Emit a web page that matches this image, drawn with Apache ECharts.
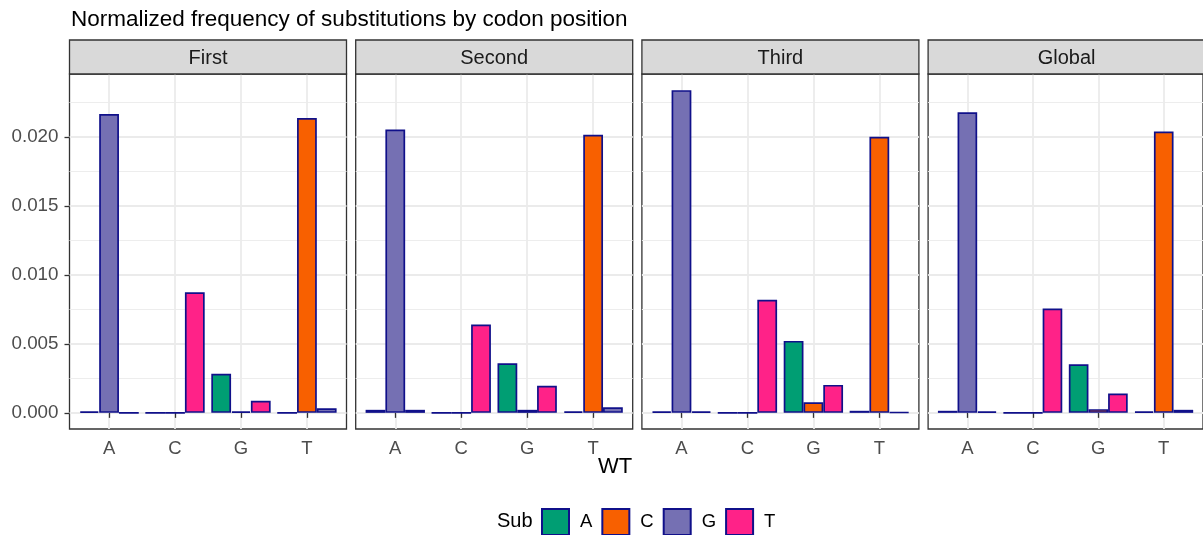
<!DOCTYPE html>
<html><head><meta charset="utf-8">
<script src="https://cdn.jsdelivr.net/npm/echarts@6/dist/echarts.min.js"></script>
<style>html,body{margin:0;padding:0;background:#fff}#c{width:1203px;height:535px}</style>
</head><body><div id="c"></div>
<script>
// ---------- data ----------
const panelNames = ['First', 'Second', 'Third', 'Global'];
const wtCategories = ['A', 'C', 'G', 'T'];          // x categories (WT base)
const subCategories = ['A', 'C', 'G', 'T'];         // fill (Sub base)
const yTickValues = [0, 0.005, 0.010, 0.015, 0.020];
const yMinorValues = [0.0025, 0.0075, 0.0125, 0.0175, 0.0225];
// values indexed by WT base A, C, G, T ; null = same base (no bar)
const first_A  = [null, 0, 0.00283, 0];
const first_C  = [0.00012, null, 0.00012, 0.02138];
const first_G  = [0.02167, 0, null, 0.00034];
const first_T  = [0, 0.00875, 0.00087, null];
const second_A = [null, 0, 0.00360, 0.00012];
const second_C = [0.00022, null, 0.00022, 0.02017];
const second_G = [0.02056, 0, null, 0.00041];
const second_T = [0.00022, 0.00641, 0.00196, null];
const third_A  = [null, 0, 0.00522, 0.00015];
const third_C  = [0.00010, null, 0.00077, 0.02002];
const third_G  = [0.02341, 0, null, 0.00005];
const third_T  = [0.00010, 0.00820, 0.00203, null];
const global_A = [null, 0, 0.00353, 0.00010];
const global_C = [0.00015, null, 0.00027, 0.02041];
const global_G = [0.02181, 0, null, 0.00022];
const global_T = [0.00010, 0.00757, 0.00140, null];

// ---------- styling ----------
const FONT = '"Liberation Sans", Arial, Helvetica, sans-serif';
const subColors = { A: '#009E73', C: '#F86000', G: '#7570B3', T: '#FF2288' };
const BORDER = '#10108A';
const panelLeft0 = 69.5, panelStep = 286.2, panelW = 277, panelTop = 74, panelH = 355;
const stripTop = 40, stripH = 34;

const panelData = [
  { A: first_A, C: first_C, G: first_G, T: first_T },
  { A: second_A, C: second_C, G: second_G, T: second_T },
  { A: third_A, C: third_C, G: third_G, T: third_T },
  { A: global_A, C: global_C, G: global_G, T: global_T }
];

let dataMax = 0;
panelData.forEach(pd => subCategories.forEach(s => pd[s].forEach(v => { if (v != null && v > dataMax) dataMax = v; })));
const yMax = dataMax * 1.05;
const yMin = -dataMax * 0.05;

const grid = [], xAxis = [], yAxis = [], series = [], graphic = [];

panelNames.forEach((name, p) => {
  const left = panelLeft0 + p * panelStep;
  grid.push({ left: left, top: panelTop, width: panelW, height: panelH, show: true,
    borderColor: '#333333', borderWidth: 1.3, backgroundColor: 'transparent', containLabel: false });
  xAxis.push({
    type: 'value', gridIndex: p, min: 0.4, max: 4.6,
    axisLine: { show: false },
    axisTick: { show: true, customValues: [1, 2, 3, 4], length: 5, lineStyle: { color: '#333333', width: 1.3 } },
    axisLabel: { show: true, customValues: [1, 2, 3, 4], formatter: v => wtCategories[Math.round(v) - 1] || '',
      color: '#4D4D4D', fontSize: 18.5, fontFamily: FONT, margin: 10 },
    splitLine: { show: true, lineStyle: { color: '#EBEBEB', width: 1.8 } }
  });
  yAxis.push({
    type: 'value', gridIndex: p, min: yMin, max: yMax,
    axisLine: { show: false },
    axisTick: { show: p === 0, customValues: yTickValues, length: 5, lineStyle: { color: '#333333', width: 1.3 } },
    axisLabel: { show: p === 0, customValues: yTickValues, formatter: v => v.toFixed(3),
      color: '#4D4D4D', fontSize: 18.8, fontFamily: FONT, margin: 11 },
    splitLine: { show: true, lineStyle: { color: '#EBEBEB', width: 1.8 } }
  });
  yAxis.push({
    type: 'value', gridIndex: p, min: yMin, max: yMax,
    axisLine: { show: false },
    axisTick: { show: false, customValues: yMinorValues },
    axisLabel: { show: false },
    splitLine: { show: true, lineStyle: { color: '#EDEDED', width: 1.2 } }
  });

  // build dodge slots: each WT group holds the 3 other substitution bases
  const pd = panelData[p];
  const slots = [[], [], []];
  wtCategories.forEach((wt, j) => {
    let k = 0;
    subCategories.forEach(sub => {
      const v = pd[sub][j];
      if (v == null) return;
      slots[k].push({ value: [j + 1, v], itemStyle: { color: subColors[sub] } });
      k++;
    });
  });
  slots.forEach((d, k) => {
    series.push({
      type: 'bar', name: 'slot' + k, xAxisIndex: p, yAxisIndex: 2 * p,
      barWidth: '30%', barGap: '0%', data: d, silent: true,
      itemStyle: { borderColor: BORDER, borderWidth: 1.7 }
    });
  });

  // strip
  graphic.push({ type: 'rect', shape: { x: left, y: stripTop, width: panelW, height: stripH },
    style: { fill: '#D9D9D9', stroke: '#333333', lineWidth: 1.3 }, z: 10 });
  graphic.push({ type: 'text', x: left + panelW / 2, y: stripTop + stripH / 2 + 1,
    style: { text: name, fill: '#1A1A1A', font: '20px ' + FONT, textAlign: 'center', textVerticalAlign: 'middle' }, z: 11 });
});

// hidden grid for legend-only series
grid.push({ left: -50, top: -50, width: 1, height: 1, show: false });
xAxis.push({ type: 'category', gridIndex: 4, show: false, data: ['x'] });
yAxis.push({ type: 'value', gridIndex: 4, show: false });
subCategories.forEach(s => {
  series.push({ type: 'bar', name: s, xAxisIndex: 4, yAxisIndex: yAxis.length - 1, data: [],
    itemStyle: { color: subColors[s], borderColor: BORDER, borderWidth: 1.7 } });
});

graphic.push({ type: 'text', x: 615, y: 467,
  style: { text: 'WT', fill: '#000000', font: '22px ' + FONT, textAlign: 'center', textVerticalAlign: 'middle' } });
graphic.push({ type: 'text', x: 497, y: 521,
  style: { text: 'Sub', fill: '#000000', font: '20px ' + FONT, textAlign: 'left', textVerticalAlign: 'middle' } });

const option = {
  animation: false,
  backgroundColor: '#ffffff',
  title: { text: 'Normalized frequency of substitutions by codon position', left: 66, top: 3,
    textStyle: { fontSize: 22.5, fontWeight: 'normal', color: '#000000', fontFamily: FONT } },
  legend: {
    data: subCategories, left: 541, top: 508, orient: 'horizontal', icon: 'rect',
    itemWidth: 27, itemHeight: 26, itemGap: 9, padding: 0, selectedMode: false,
    textStyle: { fontSize: 18.5, color: '#000000', fontFamily: FONT, padding: [0, 0, 0, 6] }
  },
  grid, xAxis, yAxis, series, graphic
};
const chart = echarts.init(document.getElementById('c'), null, { renderer: 'canvas' });
chart.setOption(option);
</script>
</body></html>
